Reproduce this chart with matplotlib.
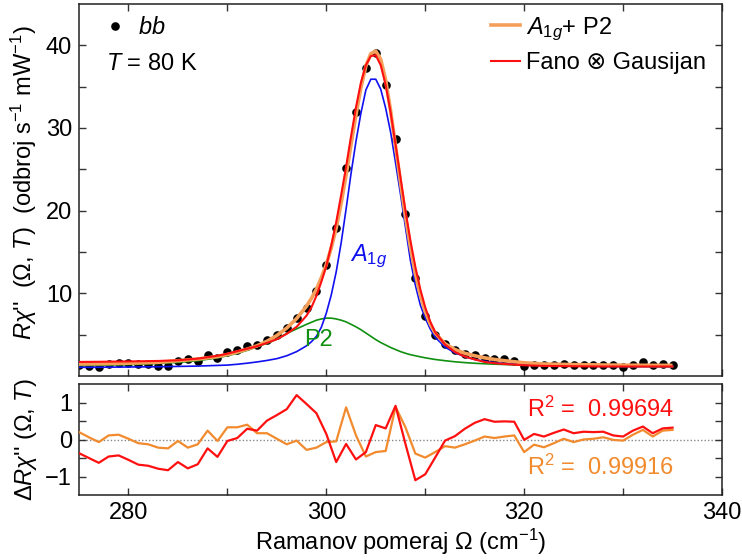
import matplotlib
matplotlib.use("Agg")
import matplotlib.pyplot as plt
from matplotlib.lines import Line2D

plt.rcParams['font.family'] = ['Liberation Sans', 'DejaVu Sans']
plt.rcParams['mathtext.fontset'] = 'custom'
plt.rcParams['mathtext.rm'] = 'Liberation Sans'
plt.rcParams['mathtext.it'] = 'Liberation Sans:italic'
plt.rcParams['mathtext.bf'] = 'Liberation Sans:bold'

FS = 17

# ---- measured data (bb, T = 80 K) ----
data_x = list(range(275, 336))
data_y = [1.3, 1.25, 1.05, 1.4, 1.55, 1.55, 1.5, 1.5, 1.25, 1.25,
          1.8, 2.0, 1.8, 2.5, 2.2, 2.9, 3.2, 3.6, 3.8, 4.4,
          5.0, 5.8, 7.0, 8.2, 10.3, 13.4, 17.9, 25.2, 31.95, 37.3,
          39.1, 35.2, 28.7, 19.55, 11.9, 7.3, 4.9, 3.9, 3.2, 2.7,
          2.5, 2.2, 2.05, 2.0, 1.85, 1.15, 1.35, 1.35, 1.35, 1.4,
          1.35, 1.35, 1.35, 1.3, 1.3, 1.1, 1.35, 1.65, 1.3, 1.5, 1.35]

# ---- fitted curves ----
fit_x = [275, 277, 279, 281, 283, 285, 287, 289, 290, 291, 292, 293, 294, 295, 296, 297, 298,
         298.5, 299, 299.5, 300, 300.5, 301, 301.5, 302, 302.5, 303, 303.5, 304, 304.5, 305,
         305.5, 306, 306.5, 307, 307.5, 308, 308.5, 309, 309.5, 310, 310.5, 311,
         312, 313, 314, 315, 316, 317, 318, 320, 322, 325, 328, 331, 335]
fit_sum = [1.45, 1.48, 1.52, 1.58, 1.66, 1.85, 2.05, 2.35, 2.6, 2.9, 3.25, 3.65, 4.2, 4.9, 5.8, 6.95, 8.45,
           9.4, 10.5, 11.9, 13.5, 15.5, 17.9, 20.9, 24.3, 28.0, 31.6, 34.9, 37.5, 39.0, 39.3,
           38.3, 35.8, 32.1, 27.8, 23.4, 19.3, 15.6, 12.4, 9.8, 7.8, 6.3, 5.2,
           3.9, 3.2, 2.75, 2.45, 2.2, 2.0, 1.85, 1.6, 1.45, 1.38, 1.33, 1.3, 1.28]
fit_fano = [1.7, 1.72, 1.75, 1.78, 1.82, 1.9, 2.1, 2.45, 2.7, 3.0, 3.3, 3.6, 4.0, 4.45, 5.1, 5.95, 7.3,
            8.3, 9.7, 11.4, 13.3, 15.8, 18.6, 21.9, 25.3, 29.0, 32.5, 35.5, 37.6, 38.7, 38.8,
            37.6, 35.2, 31.9, 28.0, 24.0, 20.0, 16.4, 13.2, 10.5, 8.3, 6.6, 5.3,
            3.8, 2.9, 2.35, 2.0, 1.7, 1.55, 1.45, 1.3, 1.22, 1.18, 1.15, 1.15, 1.15]
fit_a1g = [1.05, 1.06, 1.08, 1.1, 1.12, 1.16, 1.2, 1.28, 1.32, 1.42, 1.55, 1.7, 1.88, 2.1, 2.45, 2.95, 3.65,
           4.15, 4.8, 5.9, 7.6, 9.8, 12.6, 16.1, 20.2, 24.5, 28.4, 31.8, 34.6, 35.9, 35.9,
           34.7, 32.4, 29.5, 25.8, 22.0, 18.0, 14.0, 11.0, 8.6, 7.0, 5.7, 4.7,
           3.5, 2.8, 2.35, 2.0, 1.78, 1.62, 1.5, 1.35, 1.27, 1.2, 1.17, 1.15, 1.15]
fit_p2 = [1.25, 1.3, 1.35, 1.42, 1.52, 1.65, 1.85, 2.2, 2.45, 2.75, 3.1, 3.55, 3.95, 4.45, 5.15, 5.7, 6.25,
          6.5, 6.75, 6.9, 7.0, 7.0, 6.9, 6.75, 6.55, 6.25, 5.95, 5.6, 5.2, 4.8, 4.4,
          4.05, 3.75, 3.45, 3.2, 2.95, 2.75, 2.58, 2.45, 2.32, 2.2, 2.1, 2.0,
          1.85, 1.72, 1.62, 1.54, 1.48, 1.43, 1.39, 1.32, 1.27, 1.22, 1.18, 1.15, 1.12]

# ---- residuals ----
res_sum = [0.20, 0.06, -0.07, 0.11, 0.13, 0.02, -0.10, -0.13, -0.22, -0.24,
           -0.04, -0.22, -0.13, 0.24, -0.04, 0.33, 0.33, 0.40, 0.17, 0.17,
           0.02, -0.13, -0.03, -0.28, -0.22, -0.07, -0.05, 0.87, 0.11, -0.46,
           -0.34, -0.31, 0.88, 0.33, -0.38, -0.49, -0.34, -0.18, -0.22, -0.13,
           -0.03, 0.08, 0.04, 0.08, 0.11, -0.34, -0.14, -0.21, -0.10, 0.02,
           -0.07, 0.00, 0.02, 0.06, -0.01, -0.03, 0.13, 0.26, 0.08, 0.24, 0.26]
res_fano = [-0.37, -0.50, -0.63, -0.46, -0.43, -0.55, -0.68, -0.71, -0.79, -0.83,
            -0.61, -0.78, -0.67, -0.24, -0.47, -0.04, 0.04, 0.29, 0.24, 0.51,
            0.66, 0.82, 1.20, 0.96, 0.71, 0.15, -0.61, -0.12, -0.54, -0.34,
            0.39, 0.30, 0.91, -0.12, -1.10, -0.94, -0.49, -0.03, 0.09, 0.29,
            0.45, 0.55, 0.48, 0.49, 0.48, -0.01, 0.15, 0.08, 0.18, 0.27,
            0.17, 0.21, 0.20, 0.21, 0.11, 0.08, 0.24, 0.35, 0.17, 0.30, 0.32]

R2_fano = "0.99694"
R2_sum = "0.99916"

C_ORANGE = '#F5A05A'
C_ORANGE_RES = '#F28A2E'
C_RED = '#FF1010'
C_BLUE = '#1010F0'
C_GREEN = '#109010'

fig = plt.figure(figsize=(7.42, 5.60), dpi=100)
ax1 = fig.add_axes([79/742, 184/560, 643/742, 372/560])
ax2 = fig.add_axes([79/742, 65/560, 643/742, 111/560])

ax1.plot(data_x, data_y, 'o', color='black', ms=6.2, mec='none', zorder=2, clip_on=True)
ax1.plot(fit_x, fit_p2, color=C_GREEN, lw=1.2, zorder=3)
ax1.plot(fit_x, fit_a1g, color=C_BLUE, lw=1.2, zorder=3)
ax1.plot(fit_x, fit_sum, color=C_ORANGE, lw=2.6, zorder=4, solid_capstyle='butt')
ax1.plot(fit_x, fit_fano, color=C_RED, lw=1.5, zorder=5)

ax1.text(302.4, 14.5, r'$A_{1g}$', color=C_BLUE, fontsize=FS, ha='left', va='center')
ax1.text(297.8, 4.3, 'P2', color=C_GREEN, fontsize=FS, ha='left', va='center')

h_data = Line2D([], [], ls='none', marker='o', color='black', ms=6.2, mec='none')
leg1 = ax1.legend([h_data], [r'$bb$'], loc='upper left', bbox_to_anchor=(0.038, 0.965),
                  frameon=False, fontsize=FS, handlelength=1.0, handletextpad=0.45,
                  borderaxespad=0.0, borderpad=0.0)
ax1.add_artist(leg1)
fig.text(106/742, 1 - 64/560, r'$T$ = 80 K', fontsize=FS, ha='left', va='center')
h_sum = Line2D([], [], color=C_ORANGE, lw=2.6)
h_fano = Line2D([], [], color=C_RED, lw=1.5)
ax1.legend([h_sum, h_fano], [r'$A_{1g}$+ P2', 'Fano \u2297 Gausijan'], loc='upper left',
           bbox_to_anchor=(0.6407, 0.97),
           frameon=False, fontsize=FS, handlelength=1.23, handletextpad=0.27,
           labelspacing=0.42, borderaxespad=0.0, borderpad=0.0)

ax1.set_xlim(275, 340)
ax1.set_ylim(0, 45)
ax1.set_xticks([280, 300, 320, 340])
ax1.set_xticks([290, 310, 330], minor=True)
ax1.set_yticks([10, 20, 30, 40])
ax1.set_yticks([5, 15, 25, 35], minor=True)
ax1.tick_params(labelbottom=False)

ax2.axhline(0, color='#888888', lw=1.0, ls=(0, (1, 1.5)), zorder=1)
ax2.plot(data_x, res_sum, color=C_ORANGE_RES, lw=1.6, zorder=3)
ax2.plot(data_x, res_fano, color=C_RED, lw=1.6, zorder=4)
ax2.text(320.3, 0.82, 'R$^2$ =  ' + R2_fano, color=C_RED, fontsize=FS, ha='left', va='center')
ax2.text(320.3, -0.74, 'R$^2$ =  ' + R2_sum, color=C_ORANGE_RES, fontsize=FS, ha='left', va='center')
ax2.set_xlim(275, 340)
ax2.set_ylim(-1.5, 1.5)
ax2.set_xticks([280, 300, 320, 340])
ax2.set_xticks([290, 310, 330], minor=True)
ax2.set_yticks([-1, 0, 1])
ax2.set_yticks([-0.5, 0.5], minor=True)

for ax in (ax1, ax2):
    ax.tick_params(which='both', direction='in', top=True, right=True, length=5,
                   width=1.0, color='#333333', labelsize=FS, pad=5)
    for s in ax.spines.values():
        s.set_linewidth(1.1)
        s.set_color('#222222')

ax1.set_ylabel(r"$R\chi$''  ($\Omega$, $T$)  (odbroj s$^{-1}$ mW$^{-1}$)", fontsize=FS)
ax2.set_ylabel(r"$\Delta R\chi$'' ($\Omega$, $T$)", fontsize=FS)
ax1.yaxis.set_label_coords(-0.062, 0.52)
ax2.yaxis.set_label_coords(-0.062, 0.5)
ax2.set_xlabel(r"Ramanov pomeraj $\Omega$ (cm$^{-1}$)", fontsize=FS, labelpad=2)

fig.savefig('out.png', dpi=100)
